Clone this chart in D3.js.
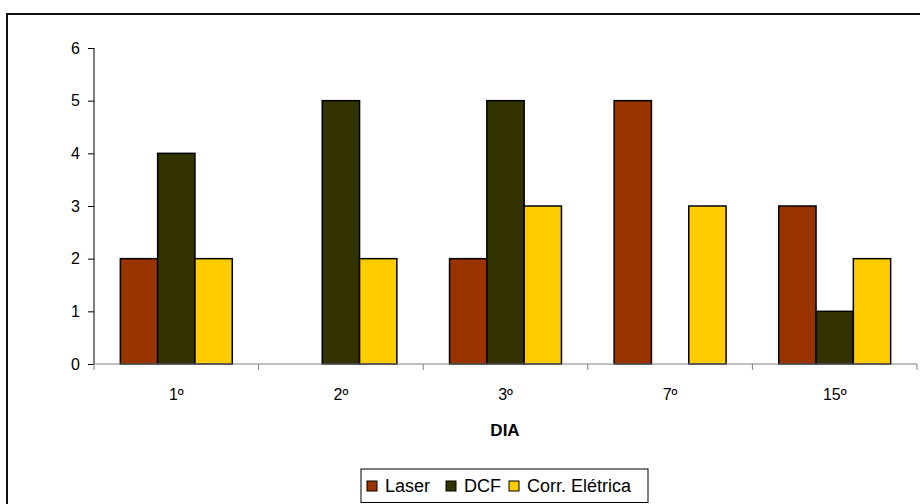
<!DOCTYPE html>
<html>
<head>
<meta charset="utf-8">
<script src="https://cdn.jsdelivr.net/npm/d3@7"></script>
<style>
  html, body { margin: 0; padding: 0; background: #fff; }
  svg { display: block; font-family: Arial, "Liberation Sans", sans-serif; }
</style>
</head>
<body>
<svg id="chart" width="920" height="504"></svg>
<script>
const categories = ["1º", "2º", "3º", "7º", "15º"];
const seriesNames = ["Laser", "DCF", "Corr. Elétrica"];
const laser = [2, null, 2, 5, 3];
const dcf = [4, 5, 5, null, 1];
const corrEletrica = [2, 2, 3, 3, 2];
const yTicks = [0, 1, 2, 3, 4, 5, 6];
const colors = ["#993300", "#333300", "#FFCC00"];
const xTitle = "DIA";

const seriesValues = [laser, dcf, corrEletrica];
const svg = d3.select("#chart");

// outer frame (right/bottom edges lie outside the viewport)
svg.append("rect")
  .attr("x", 7).attr("y", 14).attr("width", 960).attr("height", 540)
  .attr("fill", "none").attr("stroke", "#111").attr("stroke-width", 2);

const x0 = d3.scaleBand().domain(categories).range([94, 917]).padding(0);
const bw = x0.bandwidth();
const x1 = d3.scaleBand().domain(seriesNames).range([bw * 0.16, bw * 0.84]).padding(0);
const y = d3.scaleLinear().domain([0, 6]).range([364, 48]);

// bars
const groups = svg.append("g").selectAll("g")
  .data(categories)
  .join("g")
  .attr("transform", d => `translate(${x0(d)},0)`);

groups.selectAll("rect")
  .data((c, i) => seriesNames.map((s, k) => ({ s, k, v: seriesValues[k][i] })).filter(d => d.v != null))
  .join("rect")
  .attr("x", d => x1(d.s))
  .attr("y", d => y(d.v))
  .attr("width", x1.bandwidth())
  .attr("height", d => y(0) - y(d.v))
  .attr("fill", d => colors[d.k])
  .attr("stroke", "#000")
  .attr("stroke-width", 1.5);

// y axis
const yAxis = svg.append("g")
  .attr("transform", "translate(94,0)")
  .call(d3.axisLeft(y).tickValues(yTicks).tickFormat(d3.format("d")).tickSize(6).tickPadding(8));
yAxis.select(".domain").attr("stroke", "#000").attr("d", `M0,${y(6)}V${y(0)}`);
yAxis.selectAll(".tick line").attr("stroke", "#000");
yAxis.selectAll(".tick text").attr("font-size", 16).attr("fill", "#000")
  .attr("font-family", "Arial, 'Liberation Sans', sans-serif");

// x axis
const xAxis = svg.append("g")
  .attr("transform", `translate(0,${y(0)})`)
  .call(d3.axisBottom(x0).tickSize(0).tickPadding(25));
xAxis.select(".domain").attr("stroke", "#808080").attr("d", `M94,0H917`);
xAxis.selectAll(".tick text").attr("font-size", 16).attr("fill", "#000")
  .attr("font-family", "Arial, 'Liberation Sans', sans-serif");
// boundary tick marks
const bounds = categories.map(c => x0(c)).concat([x0(categories[categories.length - 1]) + bw]);
xAxis.selectAll(".bound").data(bounds).join("line")
  .attr("class", "bound")
  .attr("x1", d => d).attr("x2", d => d)
  .attr("y1", 0).attr("y2", 6)
  .attr("stroke", "#808080");

// axis title
svg.append("text")
  .attr("x", 505).attr("y", 436)
  .attr("text-anchor", "middle")
  .attr("font-size", 17).attr("font-weight", "bold")
  .text(xTitle);

// legend
const lg = svg.append("g").attr("transform", "translate(361,469)");
lg.append("rect").attr("x", 0).attr("y", 0).attr("width", 287).attr("height", 33.5)
  .attr("fill", "#fff").attr("stroke", "#000").attr("stroke-width", 1);
const legendX = [6, 85, 148];
const items = lg.selectAll("g.item").data(seriesNames).join("g")
  .attr("class", "item")
  .attr("transform", (d, i) => `translate(${legendX[i]},12)`);
items.append("rect").attr("x", 0).attr("y", 0).attr("width", 10).attr("height", 10)
  .attr("fill", (d, i) => colors[i]).attr("stroke", "#000").attr("stroke-width", 1);
items.append("text").attr("x", 18).attr("y", 10.5)
  .attr("font-size", 18).text(d => d);
</script>
</body>
</html>
